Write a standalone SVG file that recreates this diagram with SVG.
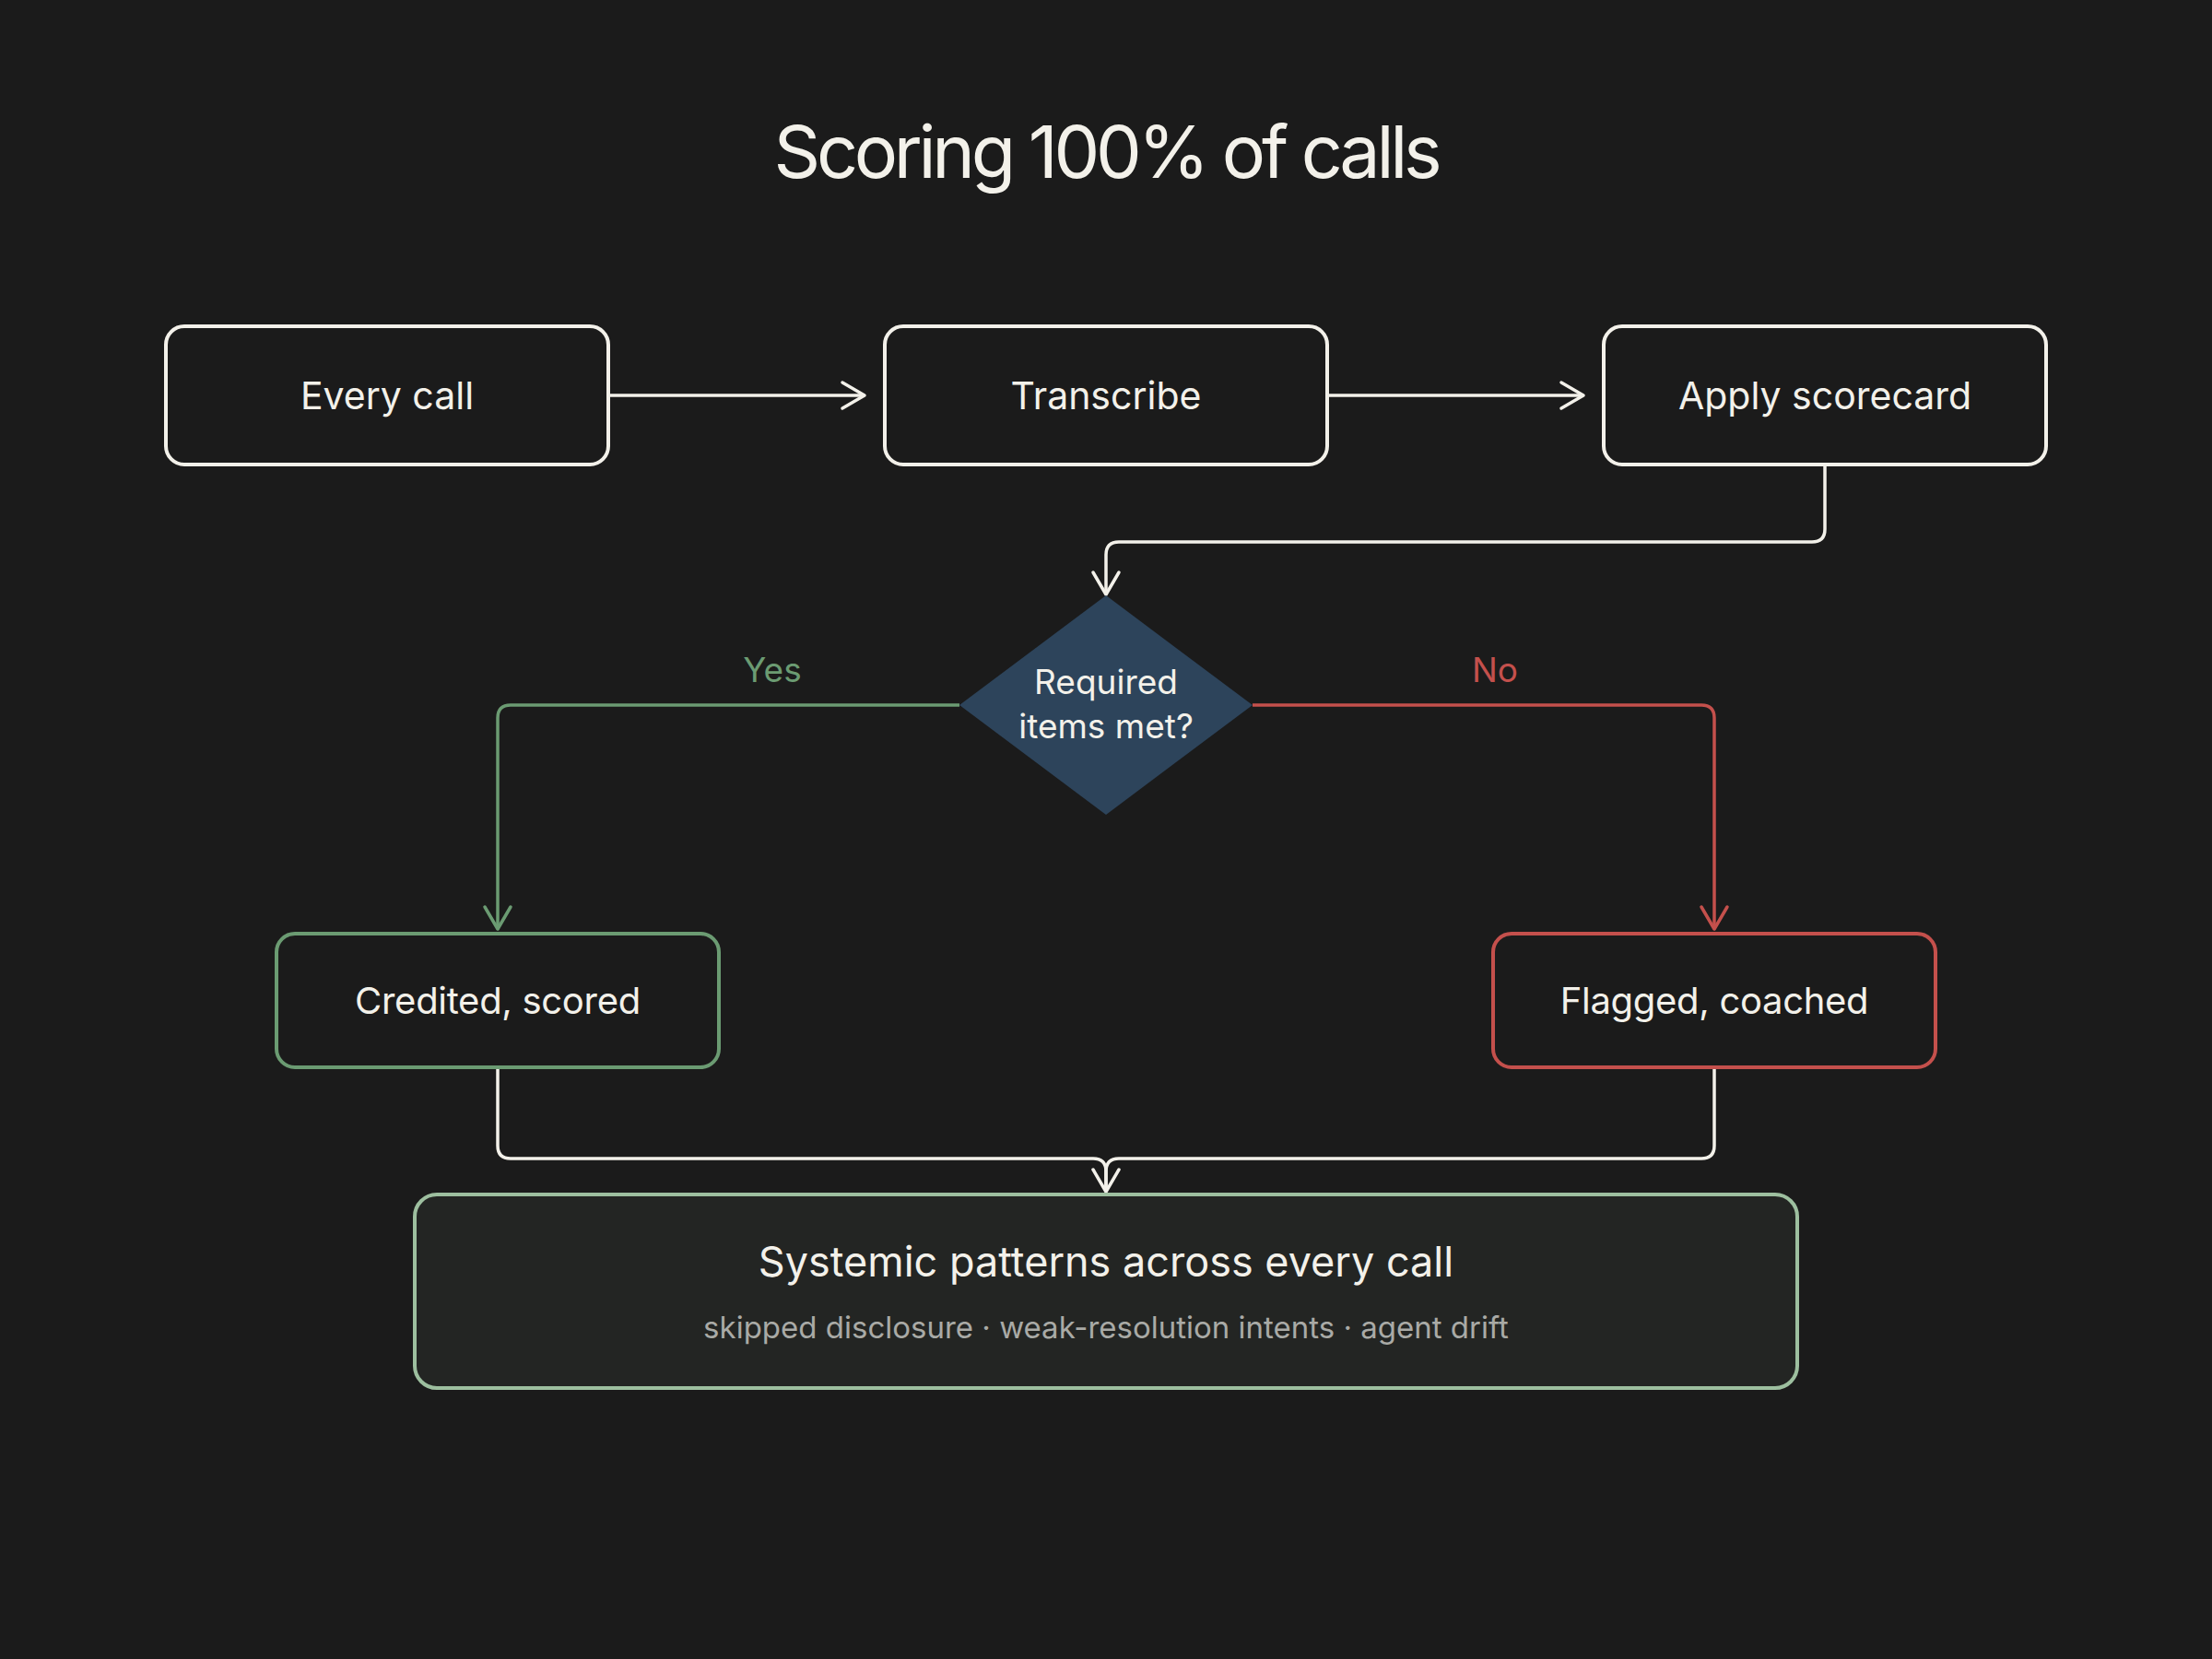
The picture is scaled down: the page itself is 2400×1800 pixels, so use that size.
<svg xmlns="http://www.w3.org/2000/svg" width="2400" height="1800" viewBox="0 0 2400 1800">
<defs>
<style>
.bg{fill:#1b1b1b}
.box{fill:#1b1b1b;stroke:#f3f1ea;stroke-width:4}
.lbl{font-family:Inter,"Noto Sans","Liberation Sans",sans-serif;fill:#f3f1ea;text-anchor:middle}
.conn{fill:none;stroke-width:3.5;stroke-linejoin:round}
.w{stroke:#f3f1ea}
.g{stroke:#6b9b72}
.r{stroke:#c4504c}
</style>
<marker id="aw" markerWidth="40" markerHeight="40" viewBox="-30 -20 40 40" refX="0" refY="0" orient="auto" markerUnits="userSpaceOnUse"><path d="M-24,-14 L0,0 L-24,14" fill="none" stroke="#f3f1ea" stroke-width="3.5" stroke-linecap="round" stroke-linejoin="round"/></marker>
<marker id="ag" markerWidth="40" markerHeight="40" viewBox="-30 -20 40 40" refX="0" refY="0" orient="auto" markerUnits="userSpaceOnUse"><path d="M-24,-14 L0,0 L-24,14" fill="none" stroke="#6b9b72" stroke-width="3.5" stroke-linecap="round" stroke-linejoin="round"/></marker>
<marker id="ar" markerWidth="40" markerHeight="40" viewBox="-30 -20 40 40" refX="0" refY="0" orient="auto" markerUnits="userSpaceOnUse"><path d="M-24,-14 L0,0 L-24,14" fill="none" stroke="#c4504c" stroke-width="3.5" stroke-linecap="round" stroke-linejoin="round"/></marker>
</defs>
<rect class="bg" x="0" y="0" width="2400" height="1800"/>
<text class="lbl" x="1200" y="193" font-size="79" letter-spacing="-4.3">Scoring 100% of calls</text>

<g id="connectors">
<path class="conn w" d="M660,429 H938" marker-end="url(#aw)"/>
<path class="conn w" d="M1440,429 H1718" marker-end="url(#aw)"/>
<path class="conn w" d="M1980,504 V574 Q1980,588 1966,588 H1214 Q1200,588 1200,602 V645" marker-end="url(#aw)"/>
<path class="conn g" d="M1041,765 H554 Q540,765 540,779 V1008" marker-end="url(#ag)"/>
<path class="conn r" d="M1359,765 H1846 Q1860,765 1860,779 V1008" marker-end="url(#ar)"/>
<path class="conn w" d="M540,1158 V1243 Q540,1257 554,1257 H1186 Q1200,1257 1200,1271 V1293"/>
<path class="conn w" d="M1860,1158 V1243 Q1860,1257 1846,1257 H1214 Q1200,1257 1200,1271 V1293" marker-end="url(#aw)"/>
<text class="lbl" x="838" y="740" font-size="37" style="fill:#6b9b72">Yes</text>
<text class="lbl" x="1622" y="740" font-size="37" style="fill:#c4504c">No</text>
</g>

<g id="every-call">
<rect class="box" x="180" y="354" width="480" height="150" rx="20"/>
<text class="lbl" x="420" y="444" font-size="41">Every call</text>
</g>
<g id="transcribe">
<rect class="box" x="960" y="354" width="480" height="150" rx="20"/>
<text class="lbl" x="1200" y="444" font-size="41">Transcribe</text>
</g>
<g id="apply-scorecard">
<rect class="box" x="1740" y="354" width="480" height="150" rx="20"/>
<text class="lbl" x="1980" y="444" font-size="41">Apply scorecard</text>
</g>
<g id="decision">
<path d="M1200,646 L1359,765 L1200,884 L1041,765 Z" fill="#2d445b"/>
<text class="lbl" x="1200" y="753" font-size="37">Required</text>
<text class="lbl" x="1200" y="801" font-size="37">items met?</text>
</g>
<g id="credited">
<rect class="box" x="300" y="1013" width="480" height="145" rx="20" style="stroke:#6b9b72"/>
<text class="lbl" x="540" y="1100" font-size="40" letter-spacing="-0.3">Credited, scored</text>
</g>
<g id="flagged">
<rect class="box" x="1620" y="1013" width="480" height="145" rx="20" style="stroke:#c4504c"/>
<text class="lbl" x="1860" y="1100" font-size="40" letter-spacing="-0.3">Flagged, coached</text>
</g>
<g id="systemic">
<rect x="450" y="1296" width="1500" height="210" rx="24" fill="#232523" stroke="#9dbf9f" stroke-width="4"/>
<text class="lbl" x="1200" y="1385" font-size="45">Systemic patterns across every call</text>
<text class="lbl" x="1200" y="1452" font-size="33" style="fill:#a9aaa6">skipped disclosure · weak-resolution intents · agent drift</text>
</g>
</svg>
